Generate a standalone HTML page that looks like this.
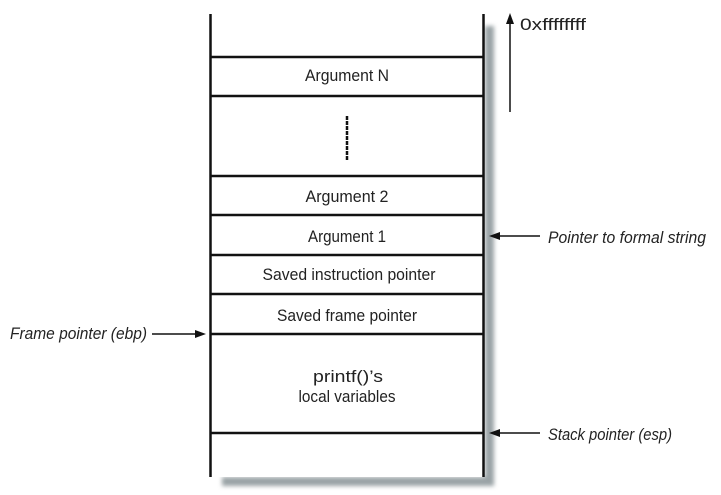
<!DOCTYPE html>
<html><head><meta charset="utf-8"><style>
html,body{margin:0;padding:0;background:#fff;}
svg{display:block;}
text{font-family:"Liberation Sans",sans-serif;font-size:17px;fill:#222;}
</style></head><body>
<svg width="721" height="495" viewBox="0 0 721 495" xmlns="http://www.w3.org/2000/svg">
<defs><filter id="b"><feGaussianBlur stdDeviation="2"/></filter></defs>
<g filter="url(#b)" fill="#9aa3a6">
<rect x="485" y="26" width="9" height="460"/>
<rect x="222" y="477" width="272" height="9"/>
</g>
<rect x="210" y="14" width="274" height="463" fill="#fff"/>
<g stroke="#111" stroke-width="2.5" fill="none">
<line x1="210.5" y1="14" x2="210.5" y2="477"/>
<line x1="483.5" y1="14" x2="483.5" y2="477"/>
<line x1="210" y1="57" x2="484" y2="57"/>
<line x1="210" y1="96" x2="484" y2="96"/>
<line x1="210" y1="176" x2="484" y2="176"/>
<line x1="210" y1="215" x2="484" y2="215"/>
<line x1="210" y1="255" x2="484" y2="255"/>
<line x1="210" y1="294" x2="484" y2="294"/>
<line x1="210" y1="334" x2="484" y2="334"/>
<line x1="210" y1="433" x2="484" y2="433"/>
</g>
<line x1="347" y1="116" x2="347" y2="160" stroke="#111" stroke-width="2.5" stroke-dasharray="4,1"/>
<g stroke="#111" stroke-width="1.5">
<line x1="510" y1="112" x2="510" y2="22"/>
<line x1="540" y1="236" x2="496" y2="236"/>
<line x1="152" y1="334" x2="198" y2="334"/>
<line x1="540" y1="433" x2="496" y2="433"/>
</g>
<g fill="#111">
<polygon points="510,13 506,24 514,24"/>
<polygon points="489,236 500,232 500,240"/>
<polygon points="206,334 195,330 195,338"/>
<polygon points="489,433 500,429 500,437"/>
</g>
<g text-anchor="middle">
<text x="347" y="81" textLength="84" lengthAdjust="spacingAndGlyphs">Argument N</text>
<text x="347" y="202" textLength="83" lengthAdjust="spacingAndGlyphs">Argument 2</text>
<text x="347" y="242" textLength="78" lengthAdjust="spacingAndGlyphs">Argument 1</text>
<text x="349" y="280" textLength="173" lengthAdjust="spacingAndGlyphs">Saved instruction pointer</text>
<text x="347" y="321" textLength="140" lengthAdjust="spacingAndGlyphs">Saved frame pointer</text>
<text x="348" y="382" textLength="70" lengthAdjust="spacingAndGlyphs">printf()’s</text>
<text x="347" y="402" textLength="97" lengthAdjust="spacingAndGlyphs">local variables</text>
</g>
<text x="520" y="30" textLength="66" lengthAdjust="spacingAndGlyphs">0xffffffff</text>
<g>
<text x="548" y="243" textLength="158" lengthAdjust="spacingAndGlyphs" style="font-style:italic">Pointer to formal string</text>
<text x="10" y="339" textLength="137" lengthAdjust="spacingAndGlyphs" style="font-style:italic">Frame pointer (ebp)</text>
<text x="548" y="440" textLength="124" lengthAdjust="spacingAndGlyphs" style="font-style:italic">Stack pointer (esp)</text>
</g>
</svg>
</body></html>
